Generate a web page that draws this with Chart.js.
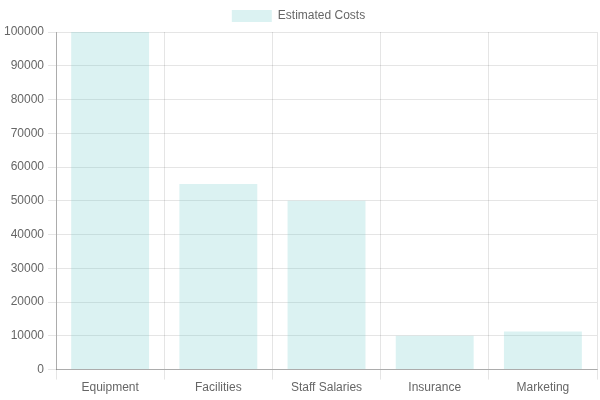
<!DOCTYPE html>
<html>
<head>
<meta charset="utf-8">
<script src="https://cdn.jsdelivr.net/npm/chart.js@4/dist/chart.umd.min.js"></script>
<style>
  html, body { margin: 0; padding: 0; background: #fff; }
  #wrap { width: 600px; height: 400px; }
</style>
</head>
<body>
<div id="wrap"><canvas id="costChart"></canvas></div>
<script>
// Data
var categories = ["Equipment", "Facilities", "Staff Salaries", "Insurance", "Marketing"];
var costs = [100000, 55000, 50000, 10000, 11300];

Chart.defaults.font.family = "'Liberation Sans', Arial, sans-serif";
Chart.defaults.font.size = 12;
Chart.defaults.color = "#666";

var ctx = document.getElementById("costChart").getContext("2d");
var costChart = new Chart(ctx, {
  type: "bar",
  data: {
    labels: categories,
    datasets: [
      {
        label: "Estimated Costs",
        data: costs,
        backgroundColor: "rgba(75, 192, 192, 0.2)",
        borderColor: "rgba(75, 192, 192, 0.2)",
        borderWidth: 0
      }
    ]
  },
  options: {
    responsive: true,
    maintainAspectRatio: false,
    animation: false,
    layout: { padding: { top: 1, right: 3, bottom: 4 } },
    plugins: {
      legend: {
        labels: { boxWidth: 40, boxHeight: 12, padding: 9 }
      },
      tooltip: { enabled: false }
    },
    scales: {
      x: {
        grid: {
          color: "rgba(0,0,0,0.1)",
          offset: true,
          tickLength: 10
        },
        border: { color: "rgba(0,0,0,0.25)" },
        ticks: { padding: 1 }
      },
      y: {
        beginAtZero: true,
        max: 100000,
        ticks: {
          stepSize: 10000,
          padding: 4,
          callback: function (value) { return String(value); }
        },
        grid: { color: "rgba(0,0,0,0.1)", tickLength: 8 },
        border: { color: "rgba(0,0,0,0.25)" }
      }
    }
  }
});
</script>
</body>
</html>
